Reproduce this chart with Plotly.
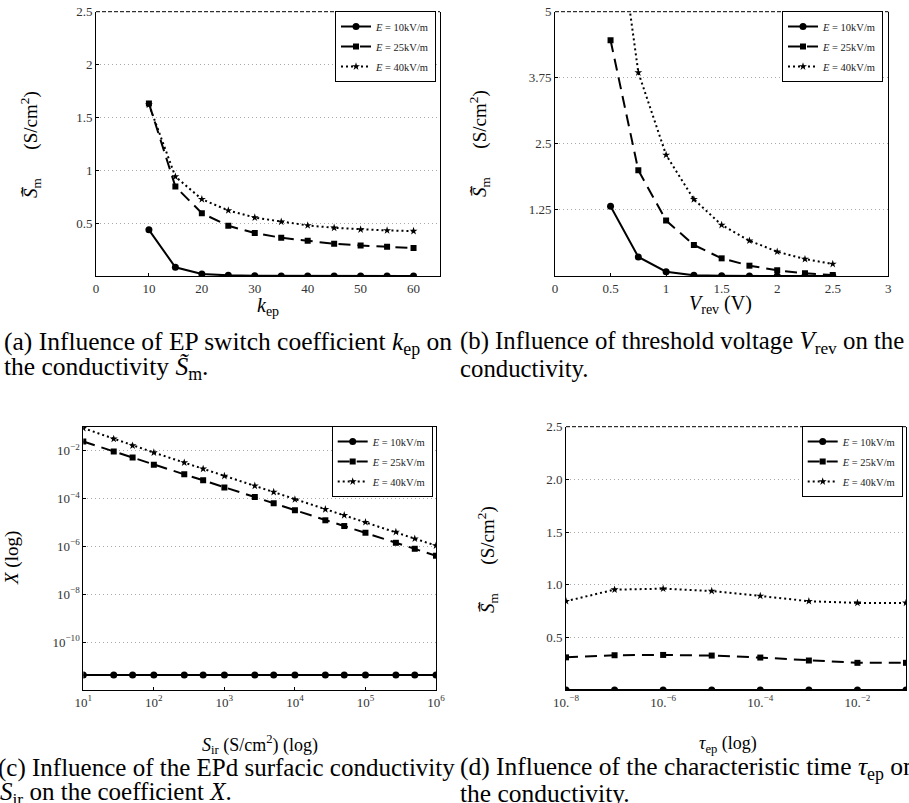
import plotly.graph_objects as go

W, H = 909, 803
SERIF = "Liberation Serif, Times New Roman, serif"

# ---------------- data ----------------
legend_names = ["<i>E</i> = 10kV/m", "<i>E</i> = 25kV/m", "<i>E</i> = 40kV/m"]

# (a) influence of k_ep
k_ep = [10, 15, 20, 25, 30, 35, 40, 45, 50, 55, 60]
a_E10 = [0.437, 0.082, 0.019, 0.006, 0.002, 0.001, 0.001, 0.0, 0.0, 0.0, 0.0]
a_E25 = [1.632, 0.846, 0.594, 0.475, 0.406, 0.362, 0.333, 0.305, 0.289, 0.277, 0.264]
a_E40 = [1.620, 0.940, 0.726, 0.620, 0.553, 0.513, 0.478, 0.456, 0.440, 0.431, 0.425]

# (b) influence of V_rev
v_rev = [0.5, 0.75, 1.0, 1.25, 1.5, 1.75, 2.0, 2.25, 2.5]
b_E10 = [1.32, 0.36, 0.082, 0.013, 0.003, 0.001, 0.0, 0.0, 0.0]
b_E25 = [4.46, 2.00, 1.05, 0.586, 0.334, 0.195, 0.107, 0.05, 0.02]
b_E40 = [7.68, 3.85, 2.29, 1.45, 0.965, 0.668, 0.46, 0.32, 0.227]

# (c) influence of S_ir on X
s_ir = [10, 27, 50, 100, 270, 500, 1e3, 2.7e3, 5e3, 1e4, 2.7e4, 5e4, 1e5, 2.7e5, 5e5, 1e6]
c_E10 = [4.2e-12] * 16
c_E25_log = [-1.62, -2.04, -2.29, -2.59, -2.99, -3.24, -3.54, -3.94, -4.20, -4.49,
             -4.91, -5.15, -5.43, -5.85, -6.10, -6.39]
c_E40_log = [-1.06, -1.51, -1.79, -2.08, -2.50, -2.76, -3.06, -3.47, -3.73, -4.04,
             -4.45, -4.70, -4.99, -5.40, -5.68, -5.97]
c_E25 = [10 ** v for v in c_E25_log]
c_E40 = [10 ** v for v in c_E40_log]

# (d) influence of tau_ep
tau_ep = [1e-8, 1e-7, 1e-6, 1e-5, 1e-4, 1e-3, 1e-2, 1e-1]
d_E10 = [0.0] * 8
d_E25 = [0.31, 0.33, 0.333, 0.327, 0.308, 0.28, 0.258, 0.258]
d_E40 = [0.843, 0.953, 0.962, 0.94, 0.893, 0.843, 0.827, 0.827]

# tick labels
a_yticks = [0.5, 1, 1.5, 2, 2.5]
a_yticklabels = ["0.5", "1", "1.5", "2", "2.5"]
a_xticks = [0, 10, 20, 30, 40, 50, 60]
b_yticks = [1.25, 2.5, 3.75, 5]
b_yticklabels = ["1.25", "2.5", "3.75", "5"]
b_xticks = [0, 0.5, 1, 1.5, 2, 2.5, 3]
b_xticklabels = ["0", "0.5", "1", "1.5", "2", "2.5", "3"]
c_yticks = [1e-2, 1e-4, 1e-6, 1e-8, 1e-10]
c_yticklabels = ["10<sup>−2</sup>", "10<sup>−4</sup>", "10<sup>−6</sup>", "10<sup>−8</sup>", "10<sup>−10</sup>"]
c_xticks = [1e1, 1e2, 1e3, 1e4, 1e5, 1e6]
c_xticklabels = ["10<sup>1</sup>", "10<sup>2</sup>", "10<sup>3</sup>", "10<sup>4</sup>", "10<sup>5</sup>", "10<sup>6</sup>"]
d_yticks = [0.5, 1.0, 1.5, 2.0, 2.5]
d_yticklabels = ["0.5", "1.0", "1.5", "2.0", "2.5"]
d_xticks = [1e-8, 1e-6, 1e-4, 1e-2]
d_xticklabels = ["10.<sup>−8</sup>", "10.<sup>−6</sup>", "10.<sup>−4</sup>", "10.<sup>−2</sup>"]

# ---------------- helpers ----------------
def px(x):
    return x / W

def py(y):
    return 1 - y / H

styles = [
    dict(line=dict(color="black", width=2, dash="solid"),
         marker=dict(symbol="circle", size=7, color="black")),
    dict(line=dict(color="black", width=2, dash="12px,7px"),
         marker=dict(symbol="square", size=6, color="black")),
    dict(line=dict(color="black", width=2, dash="2px,3px"),
         marker=dict(symbol="star", size=6, color="black")),
]

fig = go.Figure()

panels = [
    ("x", "y", "legend", k_ep, [a_E10, a_E25, a_E40]),
    ("x2", "y2", "legend2", v_rev, [b_E10, b_E25, b_E40]),
    ("x3", "y3", "legend3", s_ir, [c_E10, c_E25, c_E40]),
    ("x4", "y4", "legend4", tau_ep, [d_E10, d_E25, d_E40]),
]
for xa, ya, lg, xs, series in panels:
    for i, ys in enumerate(series):
        fig.add_trace(go.Scatter(
            x=xs, y=ys, xaxis=xa, yaxis=ya, legend=lg, mode="lines+markers",
            name=legend_names[i], legendgroup=lg + str(i), **styles[i]))

# domains (pixels)
dom = {
    "a": ((96, 440), (11.7, 276)),
    "b": ((555, 888.3), (11.7, 276)),
    "c": ((83.3, 436), (426.7, 690)),
    "d": ((566, 906), (426.7, 690)),
}

def xd(k):
    return [px(dom[k][0][0]), px(dom[k][0][1])]

def yd(k):
    return [py(dom[k][1][1]), py(dom[k][1][0])]

tickfont = dict(family=SERIF, size=13, color="#333")
common_x = dict(showline=True, linecolor="black", linewidth=1, showgrid=False,
                zeroline=False, ticks="inside", ticklen=3, tickcolor="black",
                tickfont=tickfont, automargin=False)
common_y = dict(showline=True, linecolor="black", linewidth=1, mirror=True,
                showgrid=True, gridcolor="#aaaaaa", griddash="1px,3px", gridwidth=1,
                zeroline=False, ticks="inside", ticklen=3, tickcolor="black",
                tickfont=tickfont, automargin=False)

fig.update_layout(
    xaxis=dict(domain=xd("a"), range=[0, 65], tickvals=a_xticks, anchor="y", **common_x),
    yaxis=dict(domain=yd("a"), range=[0, 2.5], tickvals=a_yticks,
               ticktext=a_yticklabels, anchor="x", **common_y),
    xaxis2=dict(domain=xd("b"), range=[0, 3], tickvals=b_xticks,
                ticktext=b_xticklabels, anchor="y2", **common_x),
    yaxis2=dict(domain=yd("b"), range=[0, 5], tickvals=b_yticks,
                ticktext=b_yticklabels, anchor="x2", **common_y),
    xaxis3=dict(domain=xd("c"), type="log", range=[1, 6], tickvals=c_xticks,
                ticktext=c_xticklabels, anchor="y3", mirror=True, **common_x),
    yaxis3=dict(domain=yd("c"), type="log", range=[-12, -1], tickvals=c_yticks,
                ticktext=c_yticklabels, anchor="x3", **common_y),
    xaxis4=dict(domain=xd("d"), type="log", range=[-8, -1], tickvals=d_xticks,
                ticktext=d_xticklabels, anchor="y4", **common_x),
    yaxis4=dict(domain=yd("d"), range=[0, 2.5], tickvals=d_yticks,
                ticktext=d_yticklabels, anchor="x4", **common_y),
)

def legend_at(right, top):
    return dict(x=px(right), y=py(top), xanchor="right", yanchor="top",
                bordercolor="black", borderwidth=1, bgcolor="white",
                font=dict(family=SERIF, size=10.5, color="#222"),
                tracegroupgap=1, itemwidth=30)

fig.update_layout(
    legend=legend_at(436, 11),
    legend2=legend_at(883, 11),
    legend3=legend_at(432.7, 426),
    legend4=legend_at(902.7, 426),
)

# dashed top frame lines for a, b, d
shapes = []
for k in ["a", "b", "d"]:
    (x0, x1), (y0, y1) = dom[k]
    shapes.append(dict(type="line", xref="paper", yref="paper",
                       x0=px(x0), x1=px(x1), y0=py(y0), y1=py(y0),
                       line=dict(color="black", width=1, dash="4px,2px")))
fig.update_layout(shapes=shapes)

ann = []
def text(x, y, s, size, angle=0, xanchor="center"):
    ann.append(dict(x=px(x), y=py(y), xref="paper", yref="paper", text=s,
                    showarrow=False, textangle=angle, xanchor=xanchor, yanchor="middle",
                    font=dict(family=SERIF, size=size, color="black")))

sm_title = "<i>S\u0303\u0305</i><sub>m</sub>\u2003\u2002(S/cm<sup>2</sup>)"
# axis titles
text(268, 306, "<i>k</i><sub>ep</sub>", 20)
text(30, 144, sm_title, 19, angle=-90)
text(720, 305, "<i>V</i><sub>rev</sub> (V)", 20)
text(479, 144, sm_title, 19, angle=-90)
text(260, 744, "<i>S</i><sub>ir</sub> (S/cm<sup>2</sup>) (log)", 18)
text(12, 558, "<i>X</i> (log)", 19, angle=-90)
text(728, 744, "<i>τ</i><sub>ep</sub> (log)", 18)
text(487, 560, sm_title, 19, angle=-90)

# captions
text(2, 343, "(a) Influence of EP switch coefficient <i>k</i><sub>ep</sub> on", 25.5, xanchor="left")
text(2, 368, "the conductivity <i>S\u0303</i><sub>m</sub>.", 25.5, xanchor="left")
text(458, 343, "(b) Influence of threshold voltage <i>V</i><sub>rev</sub> on the", 24.8, xanchor="left")
text(458, 368, "conductivity.", 24.8, xanchor="left")
text(-4, 768, "(c) Influence of the EPd surfacic conductivity", 25, xanchor="left")
text(-2, 793, "<i>S</i><sub>ir</sub> on the coefficient <i>X</i>.", 25, xanchor="left")
text(458, 768, "(d) Influence of the characteristic time <i>τ</i><sub>ep</sub> on", 25.5, xanchor="left")
text(458, 793, "the conductivity.", 25.5, xanchor="left")

fig.update_layout(
    annotations=ann,
    width=W, height=H, margin=dict(l=0, r=0, t=0, b=0, pad=0, autoexpand=False),
    paper_bgcolor="white", plot_bgcolor="white",
    showlegend=True,
)

fig.write_html("out.html", config={"displayModeBar": False},
               post_script="document.body.style.margin='0';")
